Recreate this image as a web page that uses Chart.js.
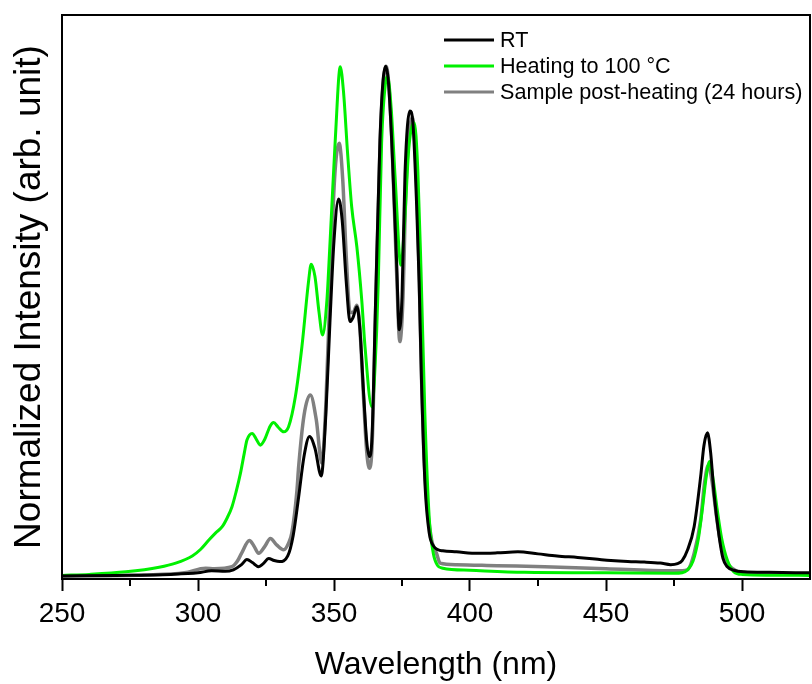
<!DOCTYPE html>
<html>
<head>
<meta charset="utf-8">
<script src="https://cdn.jsdelivr.net/npm/chart.js@4.4.1/dist/chart.umd.min.js"></script>
<style>
  html, body { margin: 0; padding: 0; background: #fff; }
  #wrap { width: 812px; height: 684px; position: relative; }
</style>
</head>
<body>
<div id="wrap"><canvas id="grafico"></canvas></div>
<script>
// Dados (comprimento de onda em nm, intensidade normalizada)
const rtX = [250, 270, 290, 300, 305, 310, 313, 316, 318, 320, 322.3, 324, 326, 328, 330, 333, 335, 337, 339, 341, 343, 345.3,
  347, 348.5, 350, 351.7, 353, 354.5, 355.9, 357, 358.4, 359.5, 360.8, 362, 363, 364, 365.3, 366.9, 368, 369, 370, 371.2,
  373, 374, 375, 376.1, 377.9, 379, 380.4, 381.3, 382.2, 383.5, 385, 386.5, 388.3, 390, 395, 403, 410, 417.6, 425, 432,
  439.6, 446, 451.8, 458, 464.1, 470, 473.8, 476.3, 478, 480, 482.4, 484.8, 486, 487.3, 488.5, 489.7, 491.6, 493, 494.6,
  497, 500.7, 510, 525];
const rtY = [0.006, 0.007, 0.009, 0.012, 0.016, 0.015, 0.018, 0.028, 0.038, 0.032, 0.024, 0.030, 0.040, 0.036, 0.034, 0.045,
  0.085, 0.16, 0.24, 0.278, 0.255, 0.201, 0.32, 0.50, 0.66, 0.741, 0.70, 0.58, 0.502, 0.51, 0.531, 0.49, 0.37, 0.27, 0.239,
  0.28, 0.544, 0.856, 0.97, 1.0, 0.97, 0.856, 0.62, 0.486, 0.55, 0.79, 0.913, 0.89, 0.726, 0.58, 0.38, 0.18, 0.09, 0.065,
  0.057, 0.055, 0.053, 0.050, 0.051, 0.053, 0.049, 0.045, 0.042, 0.039, 0.036, 0.034, 0.033, 0.031, 0.028, 0.030, 0.036,
  0.057, 0.102, 0.20, 0.26, 0.285, 0.245, 0.167, 0.083, 0.04, 0.024, 0.017, 0.014, 0.013, 0.012];

const heatX = [250, 260, 273.5, 285.7, 291.8, 297.9, 301, 304, 306.5, 308.9, 310.8, 312.5, 314, 315.6, 317, 318, 319.9, 321.5,
  322.9, 324.5, 326.5, 327.8, 329.5, 331.5, 333.3, 335.8, 338.2, 340.7, 341.6, 343, 344.5, 345.8, 347.4, 348, 349.2, 350.5,
  352.3, 353.5, 355, 356.5, 358.4, 360.2, 361.4, 363.9, 365.7, 366.3, 367.5, 369, 369.7, 371, 372.5, 374.6, 376, 377.5,
  379.5, 380.8, 382, 383.4, 385, 386.5, 388, 390, 400, 420, 450, 475, 478, 480, 482, 484, 485.5, 487, 488.1, 489.5, 490.9,
  492.5, 494.6, 497, 500, 525];
const heatY = [0.007, 0.009, 0.014, 0.023, 0.031, 0.045, 0.058, 0.076, 0.09, 0.102, 0.12, 0.141, 0.17, 0.206, 0.245, 0.271,
  0.284, 0.272, 0.261, 0.272, 0.298, 0.305, 0.296, 0.287, 0.297, 0.356, 0.453, 0.583, 0.614, 0.59, 0.52, 0.476, 0.544, 0.60,
  0.726, 0.86, 0.999, 0.95, 0.83, 0.726, 0.648, 0.544, 0.453, 0.336, 0.486, 0.583, 0.85, 0.97, 0.98, 0.92, 0.78, 0.612,
  0.70, 0.84, 0.89, 0.80, 0.60, 0.323, 0.12, 0.05, 0.027, 0.021, 0.017, 0.013, 0.012, 0.011, 0.012, 0.018, 0.035, 0.08,
  0.14, 0.205, 0.229, 0.19, 0.135, 0.08, 0.037, 0.014, 0.009, 0.007];

const postX = [250, 280, 295, 302.8, 306, 312.5, 314.5, 316, 318.9, 320.5, 322.3, 324.5, 326.6, 329, 331.5, 333.3, 334.5,
  336.4, 337, 339, 341.3, 343.5, 345.5, 347, 348.5, 350.2, 351.9, 353.2, 354.5, 355.9, 357, 358.4, 359.5, 360.8, 362, 363,
  364, 365.3, 366.9, 368, 369.2, 370.2, 371.4, 373, 374.2, 375.3, 376.5, 378.8, 380, 381.2, 382.2, 383, 384, 385.9, 387.7,
  389, 395, 410, 427.4, 450, 473.7, 478, 480, 482.4, 484.8, 486.3, 487.6, 489, 490.3, 491.8, 493.4, 496.4, 500, 525];
const postY = [0.006, 0.008, 0.012, 0.021, 0.02, 0.024, 0.035, 0.05, 0.075, 0.065, 0.05, 0.063, 0.079, 0.066, 0.057, 0.07,
  0.09, 0.174, 0.219, 0.32, 0.359, 0.31, 0.226, 0.34, 0.56, 0.78, 0.85, 0.78, 0.63, 0.52, 0.52, 0.534, 0.49, 0.36, 0.25,
  0.216, 0.26, 0.52, 0.84, 0.96, 1.0, 0.96, 0.84, 0.60, 0.463, 0.54, 0.77, 0.90, 0.82, 0.62, 0.388, 0.25, 0.161, 0.076,
  0.05, 0.031, 0.028, 0.026, 0.024, 0.020, 0.016, 0.016, 0.018, 0.05, 0.115, 0.19, 0.222, 0.19, 0.135, 0.08, 0.043, 0.021,
  0.013, 0.009];

const rotulos = ["RT", "Heating to 100 °C", "Sample post-heating (24 hours)"];
const ticksMaiores = [250, 300, 350, 400, 450, 500];
const ticksMenores = [275, 325, 375, 425, 475];

// Junta os pares x/y para o Chart.js
function pontos(xs, ys) {
  return xs.map((x, i) => ({ x: x, y: ys[i] }));
}

// Plugin: moldura, ticks menores e legenda dentro da área do gráfico
const extras = {
  id: "extras",
  afterDraw(chart) {
    const ctx = chart.ctx;
    const area = chart.chartArea;
    const escalaX = chart.scales.x;
    ctx.save();
    ctx.strokeStyle = "#000";
    ctx.lineWidth = 2;
    ctx.strokeRect(area.left, area.top, area.right - area.left, area.bottom - area.top);

    ctx.lineWidth = 2;
    ticksMenores.forEach(v => {
      const px = Math.round(escalaX.getPixelForValue(v));
      ctx.beginPath();
      ctx.moveTo(px, area.bottom);
      ctx.lineTo(px, area.bottom + 7);
      ctx.stroke();
    });

    // legenda
    ctx.font = "21.6px 'Liberation Sans', Arial, sans-serif";
    ctx.textBaseline = "middle";
    chart.data.datasets.forEach((ds, i) => {
      const y = 40 + i * 26;
      ctx.strokeStyle = ds.borderColor;
      ctx.lineWidth = 3;
      ctx.beginPath();
      ctx.moveTo(444, y);
      ctx.lineTo(494, y);
      ctx.stroke();
      ctx.fillStyle = "#000";
      ctx.fillText(ds.label, 500, y + 1);
    });
    ctx.restore();
  }
};

const ctx = document.getElementById("grafico").getContext("2d");
const myChart = new Chart(ctx, {
  type: "line",
  data: {
    datasets: [
      { label: rotulos[0], data: pontos(rtX, rtY), borderColor: "#000000", borderWidth: 3 },
      { label: rotulos[1], data: pontos(heatX, heatY), borderColor: "#00f000", borderWidth: 3 },
      { label: rotulos[2], data: pontos(postX, postY), borderColor: "#808080", borderWidth: 3.5 }
    ]
  },
  options: {
    responsive: true,
    maintainAspectRatio: false,
    animation: false,
    layout: { padding: { top: 15, right: 2, left: 0, bottom: 0 } },
    elements: {
      point: { radius: 0 },
      line: { cubicInterpolationMode: "monotone", fill: false }
    },
    plugins: {
      legend: { display: false },
      tooltip: { enabled: false }
    },
    scales: {
      x: {
        type: "linear",
        min: 250,
        max: 525,
        afterBuildTicks: (escala) => {
          escala.ticks = ticksMaiores.map(v => ({ value: v }));
        },
        afterFit: (escala) => { escala.height = 105; },
        grid: {
          drawOnChartArea: false,
          drawTicks: true,
          tickLength: 12,
          tickWidth: 2,
          tickColor: "#000"
        },
        border: { display: false },
        ticks: {
          padding: 6,
          color: "#000",
          maxRotation: 0,
          font: { family: "'Liberation Sans', Arial, sans-serif", size: 28 }
        },
        title: {
          display: true,
          text: "Wavelength (nm)",
          color: "#000",
          padding: { top: 0, bottom: 0 },
          font: { family: "'Liberation Sans', Arial, sans-serif", size: 32 }
        }
      },
      y: {
        type: "linear",
        min: 0,
        max: 1.1,
        afterFit: (escala) => { escala.width = 62; },
        grid: { display: false },
        border: { display: false },
        ticks: { display: false },
        title: {
          display: true,
          text: "Normalized Intensity (arb. unit)",
          color: "#000",
          padding: { top: 8, bottom: 0 },
          font: { family: "'Liberation Sans', Arial, sans-serif", size: 37 }
        }
      }
    }
  },
  plugins: [extras]
});
</script>
</body>
</html>
